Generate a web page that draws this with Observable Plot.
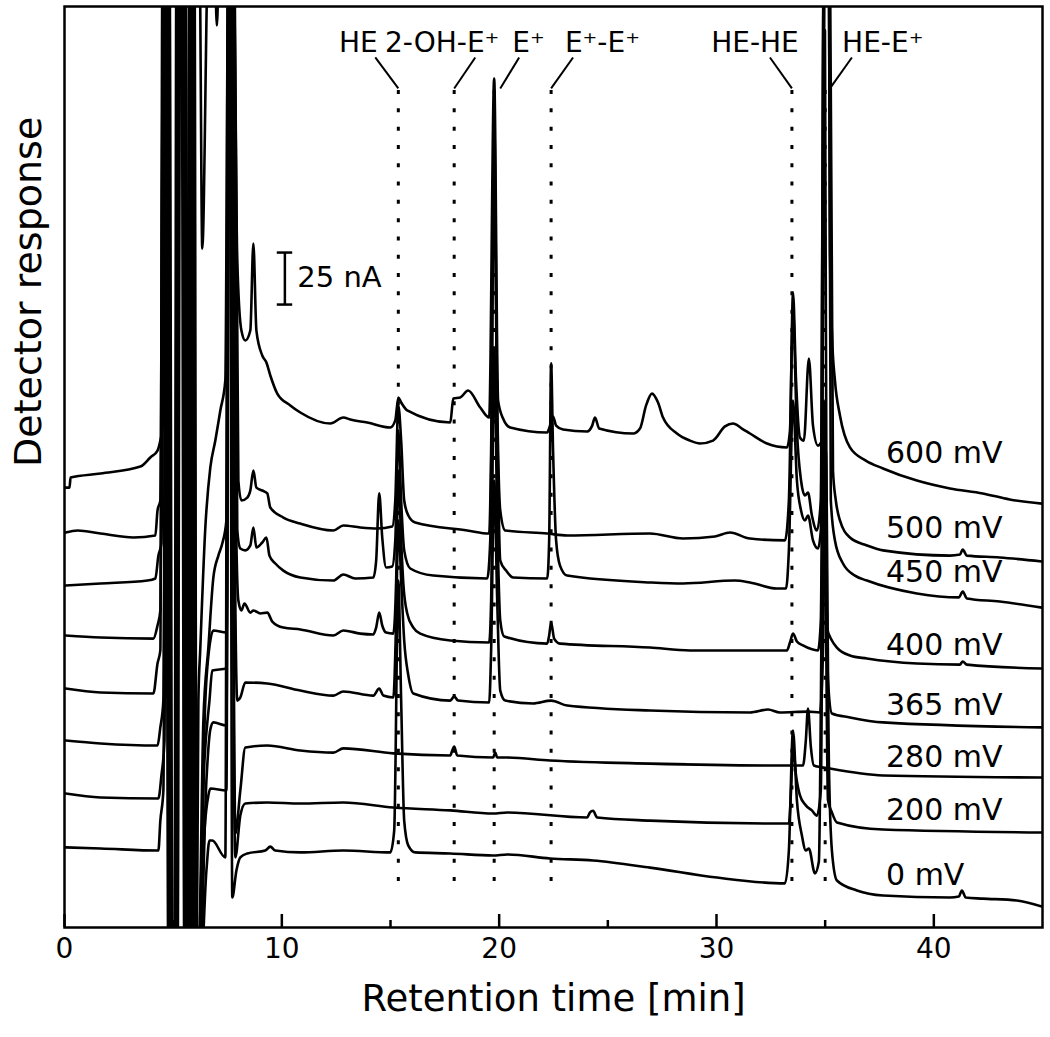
<!DOCTYPE html>
<html><head><meta charset="utf-8">
<script src="https://cdn.jsdelivr.net/npm/d3@7"></script>
<script src="https://cdn.jsdelivr.net/npm/@observablehq/plot@0.6"></script>
<style>body{margin:0;background:#fff}</style>
</head><body><div id="chart"></div>
<script>
// ---- data: retention time [min] vs detector response [nA, incl. stacking offset]
const potentials = ["600 mV","500 mV","450 mV","400 mV","365 mV","280 mV","200 mV","0 mV"];

const trace600 = [[0.05,211.5],[0.23,211.5],[0.28,216.3],[1.66,218.3],[3.49,221.6],[3.95,226.0],[4.28,229.3],[4.41,234.1],[4.51,240.4],[4.60,470],[6.21,470],[6.34,326.4],[6.62,470],[6.90,470],[7.01,433.7],[7.13,470],[7.77,470],[7.95,320.7],[8.14,287.0],[8.32,282.2],[8.55,287.0],[8.69,328.8],[8.83,287.0],[9.10,275.0],[9.29,271.6],[9.47,265.4],[9.79,256.7],[10.39,251.0],[10.85,247.6],[12.23,242.3],[12.83,245.2],[13.15,244.2],[13.93,242.8],[14.99,240.4],[15.22,243.8],[15.36,254.8],[15.49,252.4],[15.77,248.6],[17.75,242.8],[17.89,254.3],[18.21,254.8],[18.57,258.2],[19.13,250.0],[19.54,245.2],[19.77,408.2],[19.95,253.4],[20.18,244.7],[20.51,240.4],[22.21,238.0],[22.34,241.3],[22.48,245.7],[22.62,241.3],[22.94,239.4],[24.05,238.5],[24.28,241.3],[24.41,245.2],[24.60,239.9],[26.16,237.5],[26.48,239.9],[26.76,251.0],[27.03,256.7],[27.31,252.4],[27.54,245.2],[28.18,237.5],[28.78,234.1],[29.24,232.7],[29.84,234.1],[30.39,240.9],[30.76,242.3],[31.17,239.9],[31.54,237.5],[32.32,232.7],[33.24,230.8],[33.38,238.9],[33.52,305.3],[33.66,263.0],[33.84,235.6],[34.02,234.1],[34.25,273.6],[34.44,241.3],[34.67,231.7],[34.85,234.1],[34.99,470],[35.17,470],[35.22,325.5],[35.31,286.0],[35.45,262.9],[35.68,246.2],[36.14,230.8],[36.87,224.5],[37.66,220.7],[39.22,214.9],[40.74,211.1],[42.25,208.7],[43.49,205.8],[44.97,203.8]];

const trace500 = [[0.05,189.9],[0.60,190.9],[1.66,189.4],[3.17,187.5],[4.18,188.5],[4.28,200.5],[4.41,205.3],[4.55,470],[4.74,470],[4.87,-25],[5.06,-25],[5.20,470],[5.47,470],[5.66,-25],[5.75,-25],[5.85,470],[5.92,470],[6.02,-25],[6.08,-25],[6.16,109.1],[6.25,134.6],[6.48,192.3],[6.71,221.2],[6.94,234.1],[7.17,248.6],[7.40,263.0],[7.54,470],[7.82,470],[8.00,214.9],[8.14,205.3],[8.41,206.7],[8.55,210.1],[8.69,219.7],[8.83,211.5],[9.10,210.1],[9.33,208.7],[9.47,201.9],[10.07,197.1],[10.85,194.2],[12.37,190.9],[12.83,193.3],[13.61,192.3],[14.39,191.8],[15.08,192.8],[15.22,205.3],[15.36,251.0],[15.49,234.1],[15.63,205.3],[15.82,198.1],[16.14,194.7],[18.53,190.9],[19.54,189.4],[19.63,229.3],[19.77,388.0],[19.91,253.4],[20.05,200.5],[20.28,190.9],[22.21,189.4],[23.13,188.5],[26.94,189.4],[28.46,187.0],[29.93,188.0],[30.62,189.9],[31.54,187.0],[33.15,186.1],[33.33,205.3],[33.52,296.6],[33.70,238.9],[33.89,214.9],[34.07,207.7],[34.21,209.1],[34.39,198.1],[34.62,190.9],[34.80,205.3],[34.94,470],[35.22,470],[35.36,219.7],[35.49,205.3],[35.68,195.7],[36.14,187.5],[36.92,183.7],[37.66,181.3],[40.74,178.8],[41.20,179.3],[41.33,181.7],[41.52,178.8],[43.03,177.9],[44.97,176.0]];

const trace450 = [[0.05,164.4],[1.66,165.4],[3.82,166.8],[4.18,167.8],[4.32,178.8],[4.46,184.6],[4.60,470],[4.78,470],[4.92,-25],[5.10,-25],[5.24,470],[5.52,470],[5.70,-25],[5.78,-25],[5.88,470],[5.95,470],[6.05,-25],[6.15,-25],[6.39,99.5],[6.62,134.6],[6.85,168.3],[7.08,178.8],[7.26,184.6],[7.45,195.7],[7.59,470],[7.77,470],[7.95,190.9],[8.09,182.2],[8.32,181.3],[8.55,183.7],[8.69,192.3],[8.83,182.7],[9.10,185.1],[9.29,187.5],[9.43,178.8],[9.70,175.0],[10.07,171.6],[10.85,168.3],[12.37,166.8],[12.83,169.7],[13.38,167.8],[14.21,168.3],[14.34,176.4],[14.48,208.7],[14.62,187.5],[14.80,173.1],[15.08,173.6],[15.22,186.1],[15.36,238.9],[15.49,205.3],[15.63,181.3],[15.91,172.6],[16.97,169.2],[19.45,167.8],[19.59,186.1],[19.77,364.0],[19.91,243.8],[20.05,176.4],[20.32,171.6],[20.64,168.3],[22.21,167.8],[22.30,186.1],[22.39,271.2],[22.48,229.3],[22.62,186.1],[22.80,174.0],[23.13,169.2],[26.94,165.9],[28.46,165.4],[30.85,166.8],[31.54,165.9],[32.78,163.0],[33.20,163.0],[33.33,181.3],[33.52,253.4],[33.70,214.9],[33.89,200.5],[34.07,195.7],[34.21,198.1],[34.44,186.1],[34.67,182.2],[34.80,190.9],[34.94,470],[35.17,470],[35.26,205.3],[35.45,186.1],[35.82,175.0],[36.37,169.2],[36.92,166.8],[39.22,160.6],[41.15,158.7],[41.33,161.5],[41.52,158.2],[43.03,156.7],[44.97,153.8]];

const trace400 = [[0.05,140.4],[1.66,139.4],[4.09,138.9],[4.28,145.2],[4.41,152.4],[4.55,470],[4.69,470],[4.83,-25],[5.15,-25],[5.29,470],[5.43,470],[5.61,-25],[5.70,-25],[5.80,470],[5.86,470],[5.96,-25],[6.15,-25],[6.48,109.1],[6.71,138.0],[6.85,142.8],[7.45,141.8],[7.58,470],[7.72,470],[7.88,205.3],[8.00,157.2],[8.14,152.4],[8.28,155.8],[8.55,151.4],[8.69,152.4],[9.01,151.0],[9.33,151.4],[9.56,147.1],[10.07,144.2],[10.85,143.3],[12.37,140.4],[12.83,142.8],[13.61,141.3],[14.21,140.9],[14.34,144.2],[14.48,151.4],[14.62,145.2],[14.80,141.8],[15.13,141.3],[15.26,166.8],[15.36,219.7],[15.49,186.1],[15.59,165.4],[15.77,151.0],[16.05,144.2],[16.37,141.3],[17.75,138.0],[19.54,137.0],[19.63,157.2],[19.77,277.4],[19.91,195.7],[20.05,147.6],[20.23,139.9],[22.21,136.5],[22.30,140.4],[22.39,146.6],[22.53,138.9],[22.80,136.5],[26.94,134.6],[28.78,133.2],[33.24,133.2],[33.38,137.0],[33.52,141.3],[33.70,137.5],[33.98,135.6],[34.67,133.2],[34.80,147.6],[34.99,431.3],[35.08,144.2],[35.31,138.0],[35.54,134.6],[36.14,130.8],[36.92,129.3],[39.22,126.9],[41.20,126.4],[41.33,127.9],[41.52,126.4],[44.97,124.5]];

const trace365 = [[0.05,114.9],[1.66,113.0],[4.09,112.5],[4.28,126.9],[4.41,133.2],[4.51,470],[4.64,470],[4.78,-25],[5.06,-25],[5.15,470],[5.38,470],[5.52,-25],[5.64,-25],[5.74,470],[5.82,470],[5.92,-25],[6.11,-25],[6.44,80.3],[6.67,109.1],[6.80,123.6],[7.45,124.5],[7.60,470],[7.70,470],[7.86,157.2],[7.95,109.1],[8.09,110.6],[8.32,117.8],[9.33,117.3],[10.85,113.9],[12.37,111.5],[12.83,113.5],[14.21,111.5],[14.48,114.9],[14.67,111.5],[15.13,110.6],[15.26,147.6],[15.36,195.7],[15.49,166.8],[15.63,138.0],[15.82,121.2],[16.05,112.5],[17.75,109.1],[17.93,111.1],[18.11,109.1],[19.54,108.2],[19.63,133.2],[19.77,214.9],[19.91,157.2],[20.05,113.9],[20.28,109.1],[21.56,107.7],[22.39,109.1],[23.13,106.7],[26.94,104.3],[31.54,103.4],[32.37,104.8],[32.92,103.4],[34.21,103.8],[34.76,103.4],[34.90,133.2],[34.99,205.3],[35.13,118.8],[35.31,102.9],[36.14,101.0],[37.66,98.6],[44.97,96.2]];

const trace280 = [[0.05,89.9],[1.66,88.5],[4.28,87.5],[4.41,96.2],[4.55,109.1],[4.69,470],[4.83,470],[4.97,-25],[5.20,-25],[5.33,470],[5.56,470],[5.75,-25],[5.82,-25],[5.92,470],[5.98,470],[6.08,-25],[6.21,-25],[6.53,70.7],[6.71,95.2],[6.85,98.6],[7.45,97.1],[7.58,470],[7.66,470],[7.80,109.1],[7.86,45.2],[8.09,65.9],[8.32,86.5],[9.33,87.5],[10.85,85.1],[12.37,84.1],[12.83,86.1],[15.13,83.7],[17.75,82.7],[17.84,85.1],[17.93,87.0],[18.07,82.7],[19.72,81.7],[19.82,84.1],[19.91,81.7],[20.37,81.7],[22.34,80.3],[26.94,78.8],[32.78,77.9],[33.98,77.9],[34.11,89.9],[34.21,105.3],[34.34,87.0],[34.48,77.9],[35.22,76.4],[37.66,73.1],[44.97,72.1]];

const trace200 = [[0.05,64.4],[1.66,62.5],[4.32,62.0],[4.46,73.1],[4.60,89.9],[4.69,470],[4.74,470],[4.87,-25],[5.15,-25],[5.29,470],[5.47,470],[5.66,-25],[5.72,-25],[5.83,470],[5.90,470],[6.00,-25],[6.16,-25],[6.44,46.6],[6.62,63.5],[6.71,66.8],[7.45,65.9],[7.57,470],[7.65,470],[7.79,85.1],[7.86,33.7],[8.09,53.8],[8.32,59.6],[9.33,60.1],[10.85,59.6],[12.83,60.1],[15.13,57.7],[17.75,56.3],[19.72,54.8],[20.37,55.3],[24.05,52.9],[24.18,55.3],[24.32,56.1],[24.51,52.9],[26.94,51.4],[32.92,50.0],[33.33,50.0],[33.43,65.9],[33.52,87.5],[33.66,73.1],[33.84,63.5],[34.11,58.7],[34.39,56.3],[34.62,53.8],[34.80,65.9],[34.94,253.4],[35.13,61.1],[35.31,55.3],[35.54,50.5],[37.66,47.1],[44.97,45.7]];

const trace0 = [[0.05,38.5],[1.66,38.0],[4.32,37.0],[4.41,51.4],[4.55,65.9],[4.69,470],[4.78,470],[4.92,-25],[5.10,-25],[5.24,470],[5.43,470],[5.61,-25],[5.68,-25],[5.78,470],[5.84,470],[5.94,-25],[6.25,-25],[6.53,27.4],[6.67,41.8],[6.80,41.8],[7.40,33.7],[7.52,470],[7.60,470],[7.72,14.4],[7.91,27.4],[8.09,33.7],[8.41,35.6],[9.24,37.0],[9.47,38.9],[9.70,37.0],[10.85,36.1],[12.83,37.0],[14.99,36.1],[15.17,46.6],[15.36,166.8],[15.49,109.1],[15.63,51.4],[15.82,39.4],[16.14,36.1],[17.75,35.6],[19.72,34.6],[20.37,35.1],[22.34,33.2],[24.32,32.2],[26.94,28.8],[30.02,24.0],[33.15,21.2],[33.33,37.0],[33.52,94.7],[33.70,61.1],[33.93,44.2],[34.11,37.0],[34.25,38.0],[34.53,26.0],[34.71,31.7],[34.90,205.3],[35.03,229.3],[35.17,80.3],[35.31,37.0],[35.54,22.6],[36.46,17.8],[37.66,15.4],[40.74,14.4],[41.15,14.9],[41.29,17.8],[41.47,14.4],[42.25,13.9],[43.82,13.0],[44.97,10.1]];

const traces = [trace600, trace500, trace450, trace400, trace365, trace280, trace200, trace0];

// peak assignments
const peakNames = ["HE", "2-OH-E⁺", "E⁺", "E⁺-E⁺", "HE-HE", "HE-E⁺"];
const peakTimes = [15.36, 17.93, 19.77, 22.39, 33.47, 35.0];

// x ticks
const majorTicks = [0, 10, 20, 30, 40];
const minorTicks = [5, 15, 25, 35];

// annotation placement (data units)
const peakLabelT = [13.52, 17.38, 21.35, 24.75, 31.77, 37.65];
const leaderFromT = [14.30, 18.90, 20.92, 23.40, 32.46, 36.23];
const leaderToT = [15.36, 17.93, 20.05, 22.39, 33.47, 35.22];
const traceLabelV = [227.9, 191.8, 170.7, 135.6, 106.7, 81.7, 56.3, 25.0];
const scaleBar = 25; // nA

const rows = traces.flatMap((tr, i) => tr.map(([t, v]) => ({series: potentials[i], t, v})));
const peaks = peakNames.map((name, i) => ({name, t: peakTimes[i], lt: peakLabelT[i], a: leaderFromT[i], b: leaderToT[i]}));
const traceLabels = potentials.map((p, i) => ({p, v: traceLabelV[i]}));

const chart = Plot.plot({
  width: 1050, height: 1037,
  marginTop: 6, marginRight: 8, marginBottom: 110, marginLeft: 64,
  style: {fontFamily: "DejaVu Sans", background: "white", color: "black", overflow: "visible"},
  x: {domain: [0, 45]},
  y: {domain: [0, 442.8], axis: null},
  marks: [
    Plot.ruleX(peaks, {x: "t", y1: 402.4, y2: 21.2, stroke: "black", strokeWidth: 3, strokeDasharray: "4,14.3"}),
    Plot.link(peaks, {x1: "a", y1: 418.3, x2: "b", y2: 403.4, stroke: "black", strokeWidth: 2}),
    Plot.text(peaks, {x: "lt", y: 425, text: "name", fontSize: 28}),
    Plot.line(rows, {x: "t", y: "v", z: "series", stroke: "black", strokeWidth: 2.6, strokeLinejoin: "round", clip: true, curve: "monotone-x"}),
    Plot.text(traceLabels, {x: 37.8, y: "v", text: "p", textAnchor: "start", fontSize: 30}),
    // scale bar
    Plot.ruleX([10.14], {y1: 299.5, y2: 299.5 + scaleBar, stroke: "black", strokeWidth: 2.5}),
    Plot.ruleY([299.5, 299.5 + scaleBar], {x1: 9.79, x2: 10.5, stroke: "black", strokeWidth: 2.5}),
    Plot.text([`${scaleBar} nA`], {x: 10.71, y: 312.5, text: d => d, textAnchor: "start", fontSize: 29}),
    // ticks inside the frame
    Plot.ruleX(majorTicks, {x: d => d, insetTop: 921 - 13, stroke: "black", strokeWidth: 2.5}),
    Plot.ruleX(minorTicks, {x: d => d, insetTop: 921 - 7, stroke: "black", strokeWidth: 2.5}),
    Plot.axisX({ticks: majorTicks, tickSize: 0, tickPadding: 11, fontSize: 28, label: null}),
    Plot.text(["Retention time [min]"], {frameAnchor: "bottom", dy: 83, text: d => d, fontSize: 37}),
    Plot.text(["Detector response"], {frameAnchor: "left", dx: -36, rotate: -90, text: d => d, fontSize: 38}),
    Plot.frame({stroke: "black", strokeWidth: 2.5})
  ]
});
document.getElementById("chart").appendChild(chart);
</script>
</body></html>
